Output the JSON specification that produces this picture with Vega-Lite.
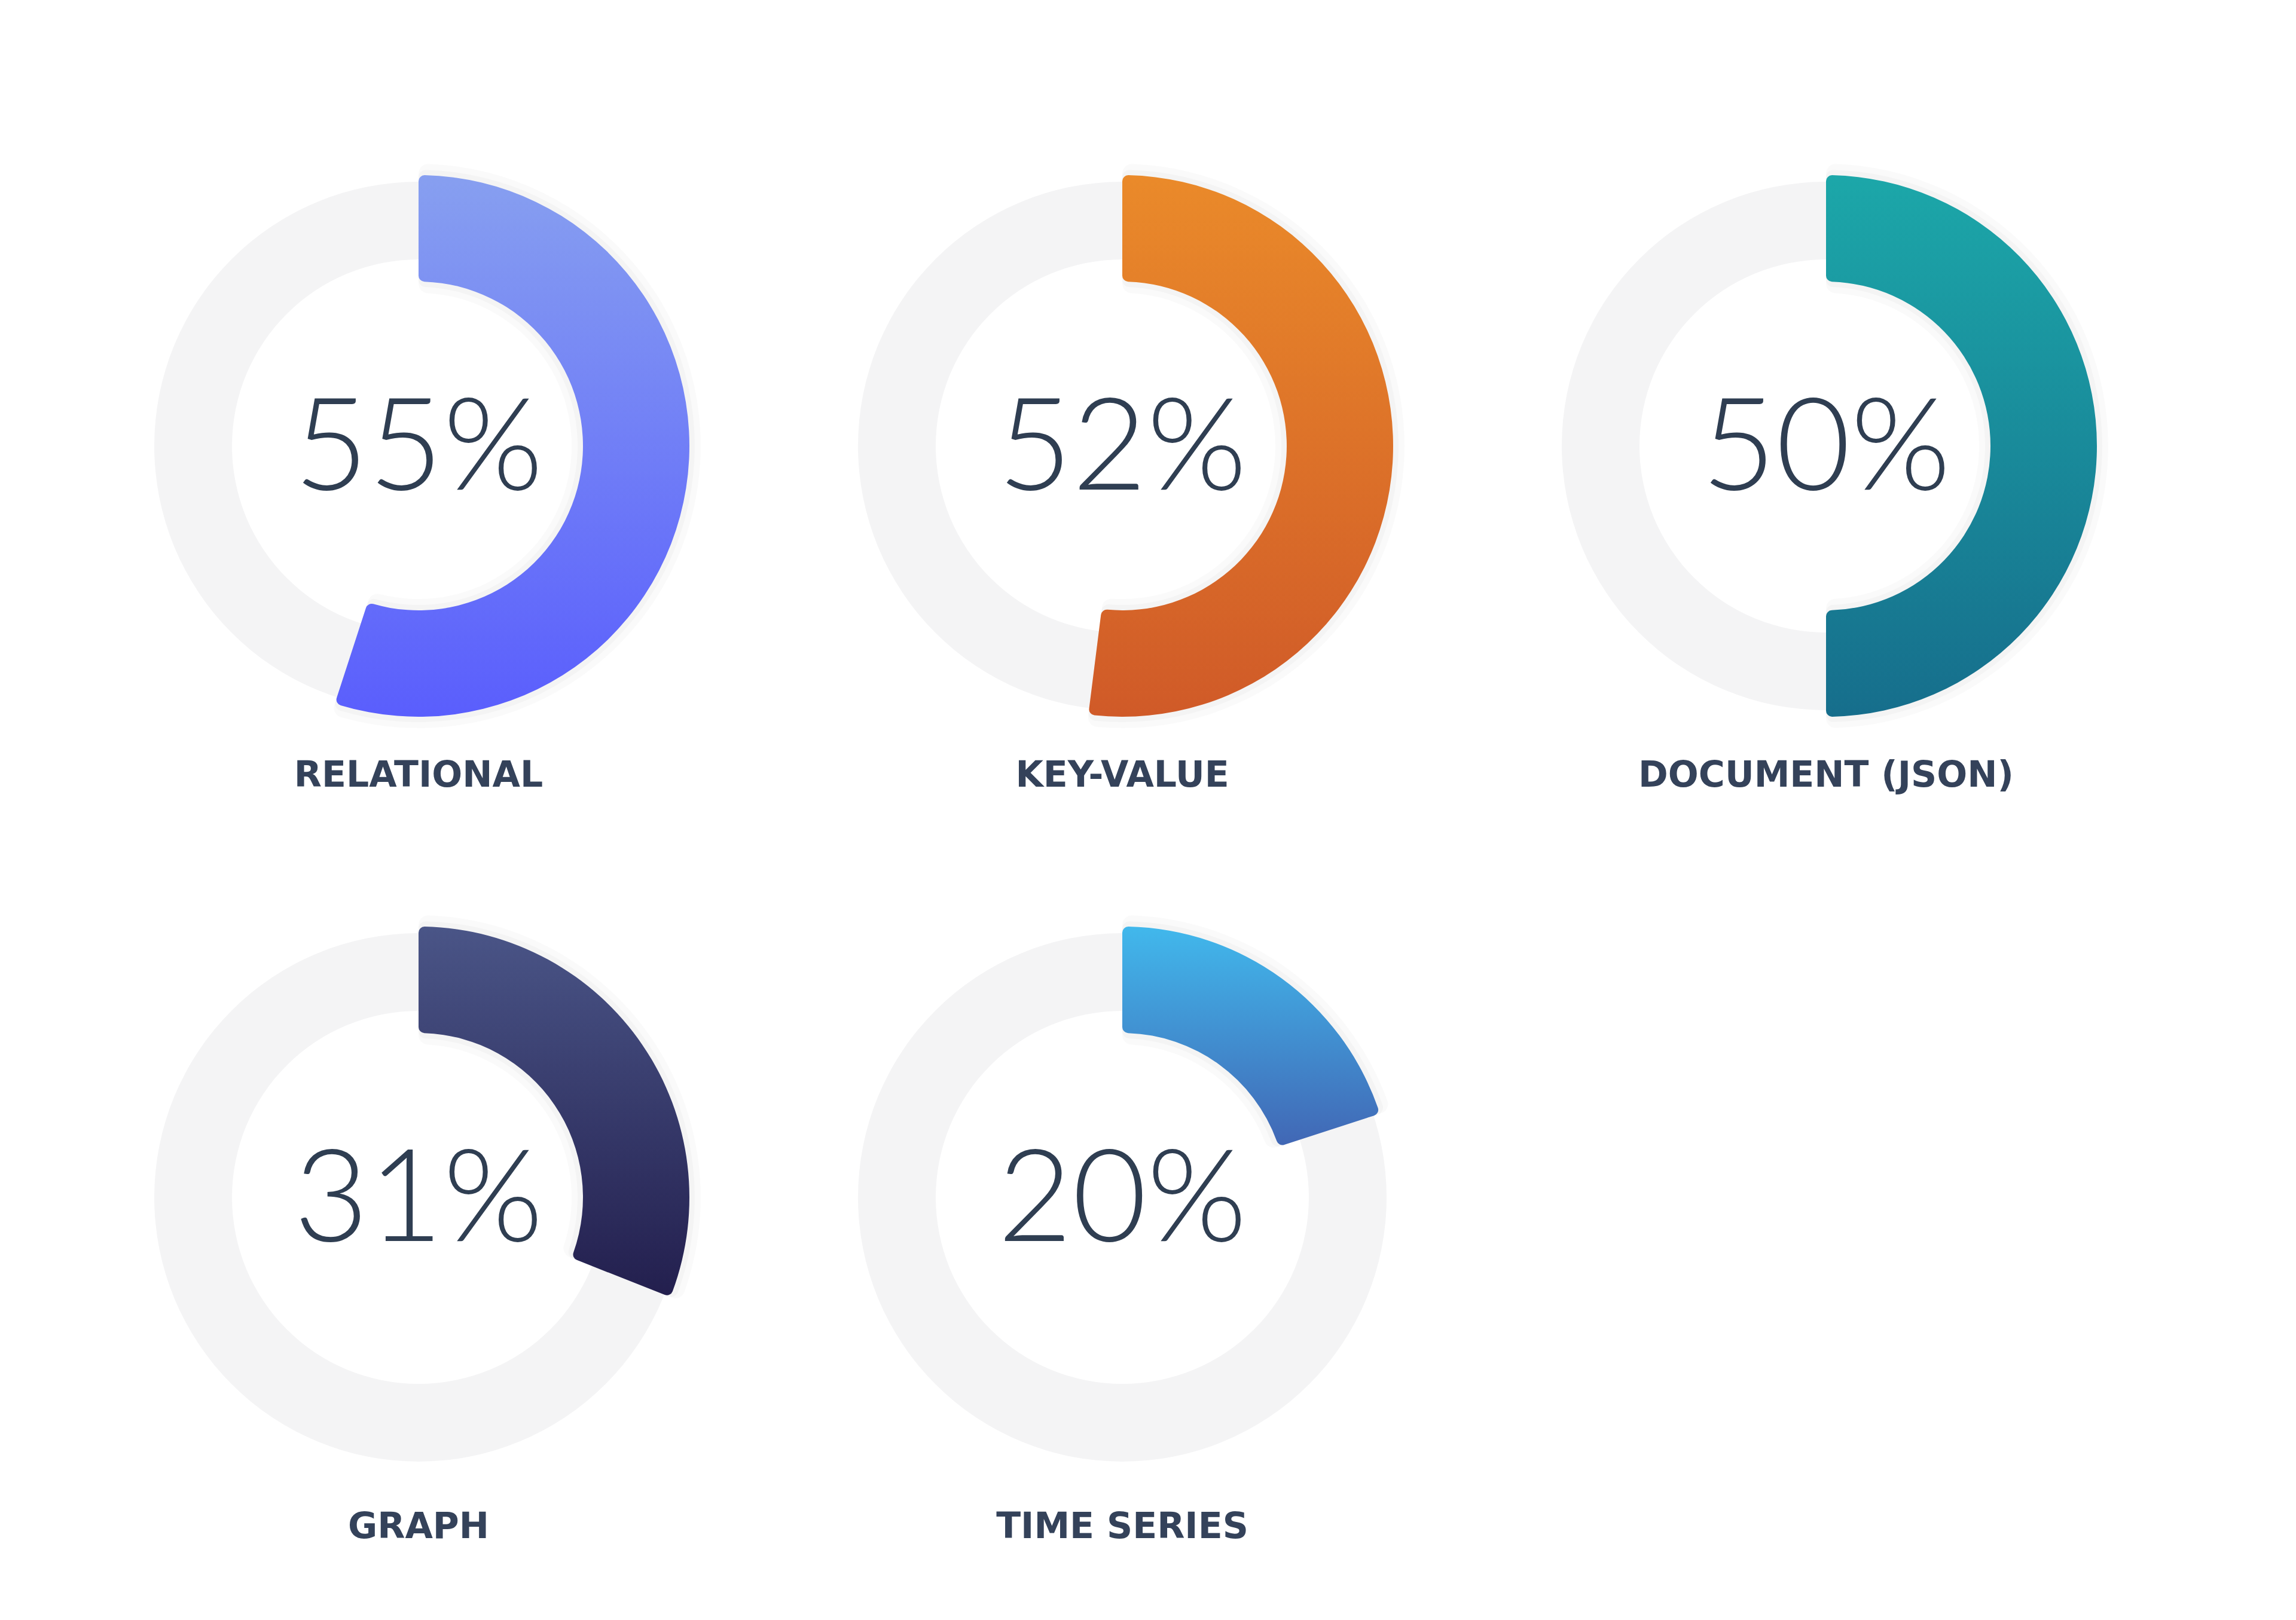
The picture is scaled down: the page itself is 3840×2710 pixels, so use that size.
{
  "$schema": "https://vega.github.io/schema/vega-lite/v6.json",
  "background": "white",
  "padding": {"left": 200, "top": 246, "right": 0, "bottom": 120},
  "data": {
    "values": [
      {"category": "RELATIONAL", "share": 0.55},
      {"category": "KEY-VALUE", "share": 0.52},
      {"category": "DOCUMENT (JSON)", "share": 0.50},
      {"category": "GRAPH", "share": 0.31},
      {"category": "TIME SERIES", "share": 0.20}
    ]
  },
  "facet": {
    "field": "category",
    "type": "nominal",
    "sort": ["RELATIONAL", "KEY-VALUE", "DOCUMENT (JSON)", "GRAPH", "TIME SERIES"],
    "header": {
      "title": null,
      "labelOrient": "bottom",
      "labelFont": "DejaVu Sans",
      "labelFontWeight": "bold",
      "labelFontSize": 60,
      "labelColor": "#34425a",
      "labelBaseline": "middle",
      "labelPadding": 52
    }
  },
  "columns": 3,
  "spacing": {"row": 175, "column": 177},
  "spec": {
    "width": 1000,
    "height": 1000,
    "layer": [
      {
        "mark": {"type": "arc", "radius": 442, "radius2": 312, "theta": 0, "theta2": 6.2832, "fill": "#f4f4f5"},
        "encoding": {}
      },
      {
        "mark": {"type": "arc", "radius": 472, "radius2": 256, "cornerRadius": 16, "fill": "#000000", "opacity": 0.018},
        "encoding": {
          "theta": {"field": "share", "type": "quantitative", "scale": {"domain": [0, 1], "range": [0, 6.2832]}}
        }
      },
      {
        "mark": {"type": "arc", "radius": 462, "radius2": 266, "cornerRadius": 12, "fill": "#000000", "opacity": 0.025},
        "encoding": {
          "theta": {"field": "share", "type": "quantitative", "scale": {"domain": [0, 1], "range": [0, 6.2832]}}
        }
      },
      {
        "mark": {"type": "arc", "radius": 453, "radius2": 275, "cornerRadius": 10},
        "encoding": {
          "theta": {"field": "share", "type": "quantitative", "scale": {"domain": [0, 1], "range": [0, 6.2832]}},
          "color": {
            "condition": [
              {"test": "datum.category === 'RELATIONAL'", "value": {"gradient": "linear", "x1": 0, "y1": 0, "x2": 0, "y2": 1, "stops": [{"offset": 0, "color": "#879ff0"}, {"offset": 1, "color": "#5a5efd"}]}},
              {"test": "datum.category === 'KEY-VALUE'", "value": {"gradient": "linear", "x1": 0, "y1": 0, "x2": 0, "y2": 1, "stops": [{"offset": 0, "color": "#ea8a2a"}, {"offset": 1, "color": "#d05a28"}]}},
              {"test": "datum.category === 'DOCUMENT (JSON)'", "value": {"gradient": "linear", "x1": 0, "y1": 0, "x2": 0, "y2": 1, "stops": [{"offset": 0, "color": "#1ca7a9"}, {"offset": 1, "color": "#166e8c"}]}},
              {"test": "datum.category === 'GRAPH'", "value": {"gradient": "linear", "x1": 0, "y1": 0, "x2": 0, "y2": 1, "stops": [{"offset": 0, "color": "#4a5587"}, {"offset": 1, "color": "#231f4e"}]}}
            ],
            "value": {"gradient": "linear", "x1": 0, "y1": 0, "x2": 0, "y2": 1, "stops": [{"offset": 0, "color": "#41b8ec"}, {"offset": 1, "color": "#4167b5"}]}
          }
        }
      },
      {
        "mark": {"type": "text", "font": "Lato", "fontWeight": 300, "fontSize": 215, "color": "#2f3e52", "baseline": "middle", "dy": 8},
        "encoding": {
          "text": {"field": "share", "type": "quantitative", "format": ".0%"}
        }
      }
    ]
  },
  "config": {"view": {"stroke": null}}
}
